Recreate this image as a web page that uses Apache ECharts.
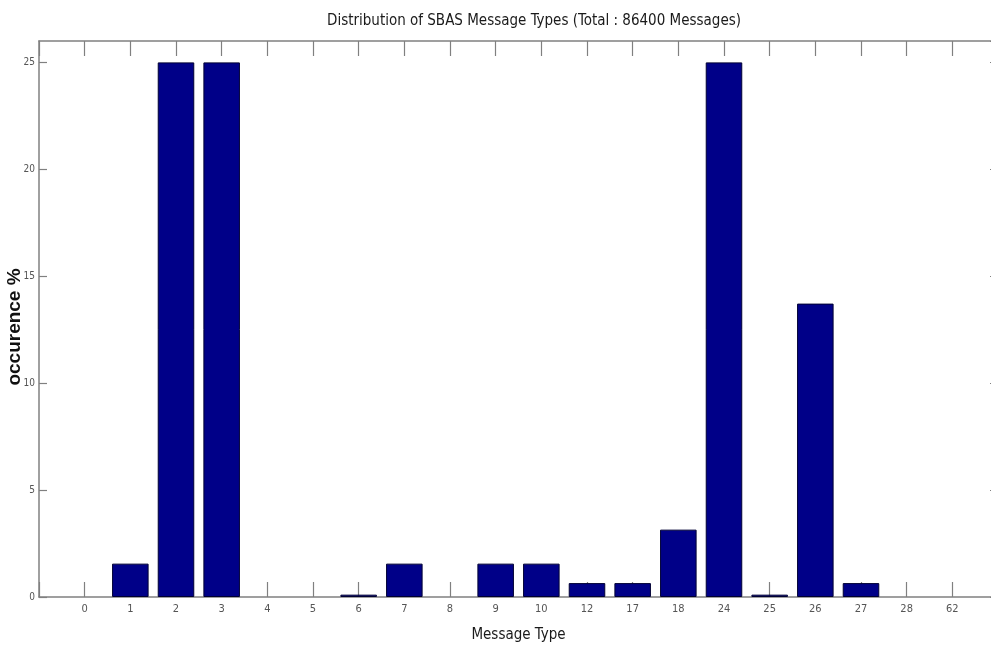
<!DOCTYPE html>
<html>
<head>
<meta charset="utf-8">
<script src="https://cdn.jsdelivr.net/npm/echarts@6/dist/echarts.min.js"></script>
<style>
html,body{margin:0;padding:0;background:#fff;}
#chart{width:991px;height:646px;}
</style>
</head>
<body>
<div id="chart"></div>
<script>
var categories = ['0','1','2','3','4','5','6','7','8','9','10','12','17','18','24','25','26','27','28','62'];
var occurrence = [0, 1.56, 25, 25, 0, 0, 0.11, 1.56, 0, 1.56, 1.56, 0.65, 0.65, 3.15, 25, 0.11, 13.72, 0.65, 0, 0];
var yTicks = [0, 5, 10, 15, 20, 25];

var NARROW = '"Liberation Sans Narrow", "DejaVu Sans Condensed", "Liberation Sans", Arial, sans-serif';
var axisColor = '#808080';

var seriesData = occurrence.map(function (v, i) { return [i, v === 0 ? '-' : v]; });

var chart = echarts.init(document.getElementById('chart'), null, {renderer: 'canvas'});
chart.setOption({
  animation: false,
  backgroundColor: '#ffffff',
  title: {
    text: 'Distribution of SBAS Message Types (Total : 86400 Messages)',
    left: 322,
    top: 9,
    textStyle: {fontFamily: NARROW, fontSize: 15, fontWeight: 'normal', color: '#1a1a1a'}
  },
  grid: {left: 39, right: -7, top: 41, bottom: 49, containLabel: false, outerBoundsMode: 'none'},
  xAxis: [{
    type: 'value', min: -1, max: 20, interval: 1, position: 'bottom',
    name: 'Message Type', nameLocation: 'middle', nameGap: 31, nameMoveOverlap: false,
    nameTextStyle: {fontFamily: NARROW, fontSize: 15, color: '#1a1a1a'},
    axisLine: {show: true, onZero: false, lineStyle: {color: axisColor, width: 1.5}},
    axisTick: {show: true, inside: true, length: 15, lineStyle: {color: axisColor, width: 1.2}},
    axisLabel: {
      fontFamily: NARROW, fontSize: 11, color: '#555', margin: 7,
      formatter: function (v) { return (v >= 0 && v < categories.length) ? categories[v] : ''; }
    },
    splitLine: {show: false}
  }, {
    type: 'value', min: -1, max: 20, interval: 1, position: 'top',
    axisLine: {show: true, onZero: false, lineStyle: {color: axisColor, width: 1.5}},
    axisTick: {show: true, inside: true, length: 15, lineStyle: {color: axisColor, width: 1.2}},
    axisLabel: {show: false},
    splitLine: {show: false}
  }],
  yAxis: [{
    type: 'value', min: 0, max: 26, interval: 5, position: 'left',
    name: 'occurence %', nameLocation: 'middle', nameGap: 15, nameRotate: 90, nameMoveOverlap: false,
    nameTextStyle: {fontFamily: '"Liberation Sans", Arial, sans-serif', fontSize: 19, fontWeight: 'bold', color: '#111', padding: [0, 16, 0, 0]},
    axisLine: {show: true, onZero: false, lineStyle: {color: axisColor, width: 1.5}},
    axisTick: {show: true, inside: true, length: 8, lineStyle: {color: axisColor, width: 1.2}},
    axisLabel: {
      fontFamily: NARROW, fontSize: 10, color: '#555', margin: 4, showMaxLabel: false,
      formatter: function (v) { return yTicks.indexOf(v) >= 0 ? String(v) : ''; }
    },
    splitLine: {show: false}
  }, {
    type: 'value', min: 0, max: 26, interval: 5, position: 'right',
    axisLine: {show: true, onZero: false, lineStyle: {color: axisColor, width: 1.5}},
    axisTick: {show: true, inside: true, length: 8, lineStyle: {color: axisColor, width: 1.2}},
    axisLabel: {show: false},
    splitLine: {show: false}
  }],
  series: [{
    type: 'bar',
    xAxisIndex: 0, yAxisIndex: 0,
    barWidth: '80%',
    data: seriesData,
    itemStyle: {color: '#000088', borderColor: '#000033', borderWidth: 1}
  }]
});
</script>
</body>
</html>
